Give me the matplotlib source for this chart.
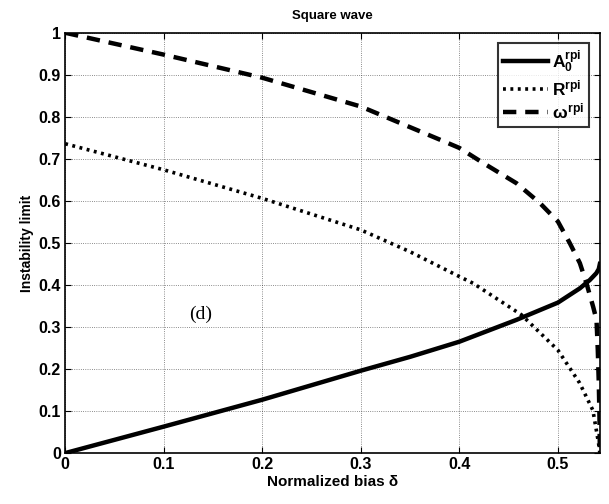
import matplotlib
matplotlib.use('Agg')
import matplotlib.pyplot as plt

# values
delta_A = [0.0, 0.1, 0.2, 0.3, 0.35, 0.4, 0.458, 0.5, 0.5223, 0.5325, 0.539, 0.5415, 0.5426]
A0_rpi = [0.0, 0.063, 0.127, 0.196, 0.229, 0.265, 0.317, 0.358, 0.392, 0.412, 0.428, 0.438, 0.45]

delta_R = [0.0, 0.1, 0.2, 0.3, 0.35, 0.4, 0.414, 0.448, 0.463, 0.5, 0.522, 0.5355, 0.5395,
           0.5415, 0.5426]
R_rpi = [0.736, 0.674, 0.606, 0.531, 0.479, 0.42, 0.404, 0.352, 0.329, 0.245, 0.167, 0.102,
         0.048, 0.02, 0.0]

delta_W = [0.0, 0.1, 0.2, 0.3, 0.387, 0.4, 0.4243, 0.458, 0.4817, 0.5, 0.5122, 0.5223, 0.529,
           0.5358, 0.5392, 0.5405, 0.5415, 0.5422, 0.5426]
W_rpi = [1.0, 0.948, 0.893, 0.8245, 0.739, 0.726, 0.69, 0.642, 0.595, 0.551, 0.499, 0.452, 0.404,
         0.348, 0.317, 0.245, 0.167, 0.086, 0.0]

plt.rcParams['font.family'] = ['Liberation Sans', 'DejaVu Sans']
plt.rcParams['font.weight'] = 'bold'
plt.rcParams['mathtext.fontset'] = 'custom'
plt.rcParams['mathtext.rm'] = 'Liberation Sans:bold'
plt.rcParams['mathtext.it'] = 'Liberation Sans:bold'

fig = plt.figure(figsize=(6.09, 5.04), dpi=100)
ax = fig.add_axes([0.107, 0.101, 0.878, 0.834])

ax.plot(delta_A, A0_rpi, color='black', lw=3.2, ls='-', label=r'A$_0^{\mathrm{rpi}}$')
ax.plot(delta_R, R_rpi, color='black', lw=2.6, ls=(0, (0.8, 1.25)), label=r'R$^{\mathrm{rpi}}$')
ax.plot(delta_W, W_rpi, color='black', lw=3.2, ls=(0, (3.0, 2.0)), label=r'$\omega^{\mathrm{rpi}}$')

ax.set_xlim(0, 0.5426)
ax.set_ylim(0, 1)
ax.set_xticks([0, 0.1, 0.2, 0.3, 0.4, 0.5])
ax.set_xticklabels(['0', '0.1', '0.2', '0.3', '0.4', '0.5'])
ax.set_yticks([0, 0.1, 0.2, 0.3, 0.4, 0.5, 0.6, 0.7, 0.8, 0.9, 1])
ax.set_yticklabels(['0', '0.1', '0.2', '0.3', '0.4', '0.5', '0.6', '0.7', '0.8', '0.9', '1'])
ax.grid(True, ls=':', color='black', lw=0.6, alpha=0.6)
ax.tick_params(direction='in', top=True, right=True, labelsize=11.5, length=4, pad=3)
for s in ax.spines.values():
    s.set_linewidth(1.2)

ax.set_xlabel('Normalized bias δ', fontsize=11, fontweight='bold', labelpad=2)
ax.set_ylabel('Instability limit', fontsize=10, fontweight='bold', labelpad=3)
ax.set_title('Square wave', fontsize=9.5, fontweight='bold', pad=10)

ax.text(0.137, 0.33, '(d)', fontsize=14, family='Liberation Serif', fontweight='normal',
        ha='center', va='center')

leg = ax.legend(loc='upper right', fontsize=12.5, frameon=True, fancybox=False,
                edgecolor='black', handlelength=2.6, borderpad=0.3, labelspacing=0.2,
                handletextpad=0.2, borderaxespad=0.6)
leg.get_frame().set_linewidth(1.5)

fig.savefig('out.png', dpi=100)
